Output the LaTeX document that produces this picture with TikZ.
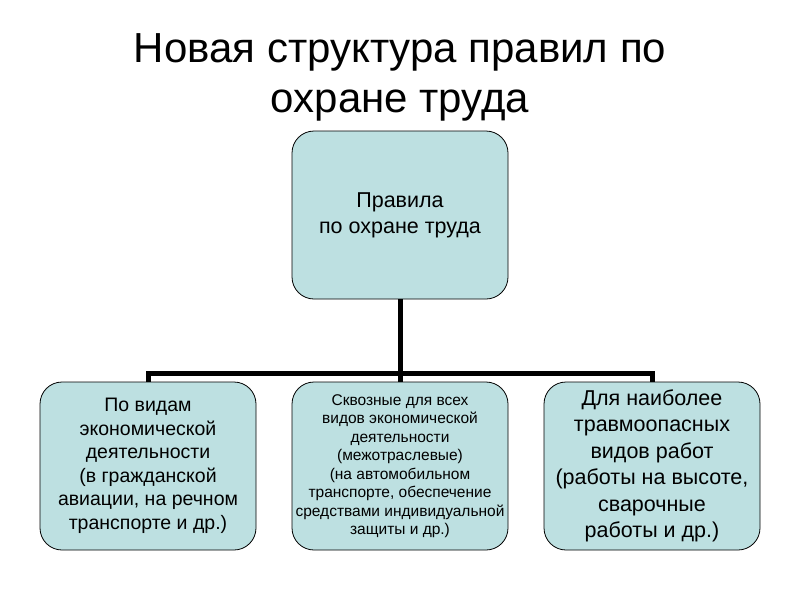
\documentclass[tikz,border=0pt]{standalone}
\usepackage{fontspec}
\setmainfont{Liberation Sans}
\begin{document}
\begin{tikzpicture}[x=1pt,y=-1pt,
  box/.style={draw=black,fill=boxfill,rounded corners=22pt,minimum width=216pt,minimum height=168pt,align=center,inner sep=0pt,line width=0.8pt},
  conn/.style={line width=5pt}]
\definecolor{boxfill}{HTML}{BDE0E1}
\useasboundingbox (0,0) rectangle (800,600);
\node[font=\fontsize{42}{50}\selectfont,align=center] (title) at (400,77) {Новая структура правил по\\охране труда};
\node[box,font=\fontsize{21.5}{26}\selectfont] (top) at (400,215) {Правила\\по охране труда};
\node[box,font=\fontsize{19.5}{23.5}\selectfont] (l) at (148,466) {По видам\\экономической\\деятельности\\(в гражданской\\авиации, на речном\\транспорте и др.)};
\node[box,font=\fontsize{15.5}{18.5}\selectfont] (m) at (400,466) {Сквозные для всех\\видов экономической\\деятельности\\(межотраслевые)\\(на автомобильном\\транспорте, обеспечение\\средствами индивидуальной\\защиты и др.)};
\node[box,font=\fontsize{21.5}{26.5}\selectfont] (r) at (652,466) {Для наиболее\\травмоопасных\\видов работ\\(работы на высоте,\\сварочные\\работы и др.)};
\coordinate (j) at (400,373);
\draw[conn] (top.south) -- (m.north);
\draw[conn] (l.north) -- (l.north |- j) -- (r.north |- j) -- (r.north);
\end{tikzpicture}
\end{document}
